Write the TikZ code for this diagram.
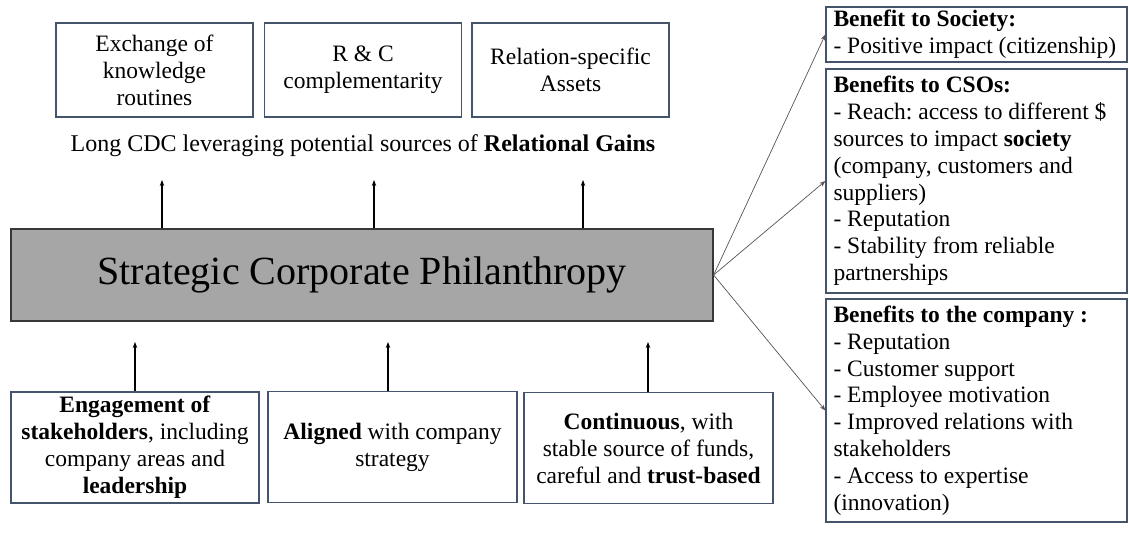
\documentclass[tikz,border=0pt]{standalone}
\usepackage{fontspec}
\setmainfont{Liberation Serif}
\usetikzlibrary{arrows.meta}
\definecolor{boxline}{RGB}{68,84,106}
\definecolor{scpfill}{RGB}{166,166,166}
\definecolor{scpline}{RGB}{55,55,55}
\definecolor{benarrow}{RGB}{85,85,85}
\frenchspacing

\begin{document}
\begin{tikzpicture}[x=1pt,y=-1pt,>={Stealth[length=6pt,width=4.5pt]},line width=1.1pt,
  gainbox/.style={draw=boxline,line width=1.3pt,align=center,inner sep=0pt,
    minimum width=197pt,minimum height=94pt,font=\fontsize{23.5}{27}\selectfont},
  driverbox/.style={draw=boxline,line width=1.3pt,align=center,inner sep=0pt,
    minimum width=249pt,minimum height=111pt,font=\fontsize{23.5}{27}\selectfont},
  benefitbox/.style={draw=boxline,line width=1.3pt,align=flush left,text width=286pt,
    inner xsep=7.5pt,inner ysep=0pt,font=\fontsize{23.5}{26.8}\selectfont}]
  \useasboundingbox[fill=white] (0,0) rectangle (1129,545);

  % sources of relational gains
  \node[gainbox] (knowledge) at (154.5,70) {Exchange of\\knowledge\\routines};
  \node[gainbox] (complement) at (363,70) {R \& C\\complementarity};
  \node[gainbox] (assets) at (570.5,70) {Relation-specific\\Assets};
  \node[font=\fontsize{24}{28}\selectfont] (gains) at (363,146)
    {Long CDC leveraging potential sources of \textbf{Relational Gains}};

  % central box
  \node[draw=scpline,fill=scpfill,line width=1.2pt,minimum width=702pt,minimum height=92pt,
    inner sep=0pt,font=\fontsize{40}{44}\selectfont] (scp) at (362,275)
    {Strategic Corporate Philanthropy};

  \coordinate (g1) at (162,180);
  \coordinate (g2) at (374,180);
  \coordinate (g3) at (583,180);
  \draw[->] (scp.north -| g1) -- (g1);
  \draw[->] (scp.north -| g2) -- (g2);
  \draw[->] (scp.north -| g3) -- (g3);

  % drivers
  \node[driverbox,minimum width=248pt] (engage) at (135,447.5)
    {\textbf{Engagement of}\\\textbf{stakeholders}, including\\company areas and\\\textbf{leadership}};
  \node[driverbox] (aligned) at (392.5,447)
    {\textbf{Aligned} with company\\strategy};
  \node[driverbox] (continuous) at (648.5,448)
    {\textbf{Continuous}, with\\stable source of funds,\\careful and \textbf{trust-based}};

  \coordinate (p1) at (135,342);
  \coordinate (p2) at (388,342);
  \coordinate (p3) at (648,342);
  \draw[->] (engage.north -| p1) -- (p1);
  \draw[->] (aligned.north -| p2) -- (p2);
  \draw[->] (continuous.north -| p3) -- (p3);

  % benefits
  \node[benefitbox,minimum height=55pt] (society) at (976.5,34.5)
    {\textbf{Benefit to Society:}\\- Positive impact (citizenship)};
  \node[benefitbox,minimum height=224pt] (csos) at (976.5,181)
    {\textbf{Benefits to CSOs:}\\- Reach: access to different \$\\sources to impact \textbf{society}\\(company, customers and\\suppliers)\\- Reputation\\- Stability from reliable\\partnerships};
  \node[benefitbox,minimum height=223pt] (company) at (976.5,410.5)
    {\textbf{Benefits to the company :}\\- Reputation\\- Customer support\\- Employee motivation\\- Improved relations with\\stakeholders\\- Access to expertise\\(innovation)};

  \draw[->,benarrow,line width=.7pt] (scp.east) -- (society.west);
  \draw[->,benarrow,line width=.7pt] (scp.east) -- (csos.west);
  \draw[->,benarrow,line width=.7pt] (scp.east) -- (company.west);
\end{tikzpicture}
\end{document}
